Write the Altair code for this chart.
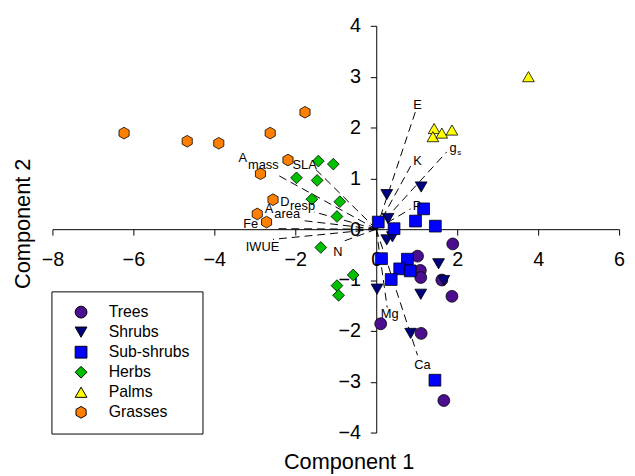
import altair as alt
import pandas as pd

# ---- groups / styling tables ----
groups = ["Trees", "Shrubs", "Sub-shrubs", "Herbs", "Palms", "Grasses"]
colors = ["#4a0e8f", "#000080", "#0000ff", "#00c000", "#ffff00", "#ff8000"]
hexagon = "M0,-1L0.866,-0.5L0.866,0.5L0,1L-0.866,0.5L-0.866,-0.5Z"
shapes = ["circle", "triangle-down", "square", "diamond", "triangle-up", hexagon]
sizes = [144, 140, 110, 160, 150, 150]

# ---- scores (Component 1, Component 2) ----
trees_x = [1.89, 1.02, 1.09, 1.10, 1.62, 1.87, 0.11, 1.11, 1.67]
trees_y = [-0.29, -0.53, -0.81, -0.95, -1.00, -1.32, -1.86, -2.05, -3.37]
shrubs_x = [0.26, 1.11, 0.29, 0.26, 0.40, 1.54, 1.67, 0.02, 1.10, 0.85]
shrubs_y = [0.68, 0.83, 0.21, -0.21, -0.15, -0.68, -1.01, -1.18, -1.28, -2.05]
subshrubs_x = [0.05, 0.44, 0.97, 1.17, 1.46, 0.13, 0.77, 0.58, 0.84, 0.37, 1.45]
subshrubs_y = [0.14, 0.01, 0.16, 0.40, 0.06, -0.58, -0.59, -0.78, -0.82, -0.99, -2.97]
herbs_x = [-1.43, -1.06, -1.97, -1.46, -1.59, -0.90, -0.97, -1.37, -0.57, -0.97, -0.93]
herbs_y = [1.34, 1.28, 1.01, 0.96, 0.59, 0.54, 0.25, -0.36, -0.90, -1.11, -1.30]
palms_x = [3.76, 1.43, 1.40, 1.62, 1.87]
palms_y = [3.00, 1.98, 1.82, 1.89, 1.95]
grasses_x = [-6.23, -4.67, -3.89, -2.62, -1.76, -2.18, -2.86, -2.55, -2.94, -2.71]
grasses_y = [1.89, 1.73, 1.69, 1.89, 2.30, 1.36, 1.09, 0.58, 0.30, 0.14]

# ---- loading vectors ----
load_names = ["E", "K", "gs", "P", "Mg", "Ca", "Amass", "SLA", "Dresp", "Aarea", "Fe", "IWUE", "N"]
load_x = [0.98, 0.85, 1.74, 0.85, 0.27, 1.02, -2.47, -1.50, -1.54, -1.82, -2.52, -2.55, -0.82]
load_y = [2.34, 1.24, 1.52, 0.40, -1.54, -2.48, 1.08, 1.18, 0.34, 0.17, 0.01, -0.20, -0.24]

# ---- loading labels ----
label_text = ["E", "K", "g", "P", "Mg", "Ca", "A", "mass", "SLA", "D", "resp", "A", "area", "Fe", "IWUE", "N"]
label_x = [1.02, 1.02, 1.90, 1.01, 0.33, 1.14, -3.30, -2.79, -1.77, -2.26, -1.82, -2.65, -2.20, -3.10, -2.81, -0.95]
label_y = [2.45, 1.35, 1.60, 0.45, -1.67, -2.67, 1.40, 1.27, 1.27, 0.54, 0.45, 0.39, 0.29, 0.11, -0.36, -0.44]
sub_text = ["s"]
sub_x = [2.05]
sub_y = [1.50]

xs = [trees_x, shrubs_x, subshrubs_x, herbs_x, palms_x, grasses_x]
ys = [trees_y, shrubs_y, subshrubs_y, herbs_y, palms_y, grasses_y]
rows = []
for g, gx, gy in zip(groups, xs, ys):
    for a, b in zip(gx, gy):
        rows.append({"group": g, "c1": a, "c2": b})
scores = pd.DataFrame(rows)

loads = pd.DataFrame({"name": load_names, "x": load_x, "y": load_y,
                      "x0": [0.0] * len(load_x), "y0": [0.0] * len(load_y)})
labels = pd.DataFrame({"t": label_text, "x": label_x, "y": label_y})
subs = pd.DataFrame({"t": sub_text, "x": sub_x, "y": sub_y})

FONT = "Liberation Sans, Arial, sans-serif"
W, H = 574, 412

xscale = alt.Scale(domain=[-8, 6], nice=False, zero=False)
yscale = alt.Scale(domain=[-4, 4], nice=False, zero=False)

xaxis = alt.Axis(values=[-8, -6, -4, -2, 0, 2, 4, 6], format="d", offset=-H / 2,
                 tickSize=6, labelPadding=15, labelFontSize=20, labelFlush=False,
                 labelOverlap=False, title="Component 1", titleFontSize=22,
                 titleX=300, titleY=225, titleBaseline="top", titleAlign="center")
yaxis = alt.Axis(values=[-4, -3, -2, -1, 0, 1, 2, 3, 4], format="d", offset=-W * 8 / 14,
                 tickSize=6, labelPadding=10, labelFontSize=20, labelFlush=False,
                 labelOverlap=False, title="Component 2", titleFontSize=22,
                 titleX=-W * 8 / 14 - 30, titleY=200, titleBaseline="middle",
                 titleAlign="center", titleAngle=270)

legend = alt.Legend(title=None, orient="none", legendX=-1, legendY=269,
                    strokeColor="black", padding=13, labelFontSize=16, labelFont=FONT,
                    labelColor="black", symbolSize=130, symbolStrokeColor="black",
                    symbolStrokeWidth=1, rowPadding=4.3, symbolOffset=9, labelOffset=20)

rules = alt.Chart(loads).mark_rule(color="black", strokeWidth=1, strokeDash=[8, 5]).encode(
    x=alt.X("x0:Q", scale=xscale, axis=xaxis),
    y=alt.Y("y0:Q", scale=yscale, axis=yaxis),
    x2="x:Q",
    y2="y:Q",
)

points = alt.Chart(scores).mark_point(filled=True, opacity=1, stroke="black", strokeWidth=0.8).encode(
    x=alt.X("c1:Q", scale=xscale, axis=xaxis),
    y=alt.Y("c2:Q", scale=yscale, axis=yaxis),
    color=alt.Color("group:N", scale=alt.Scale(domain=groups, range=colors), legend=legend),
    shape=alt.Shape("group:N", scale=alt.Scale(domain=groups, range=shapes), legend=legend),
    size=alt.Size("group:N", scale=alt.Scale(domain=groups, range=sizes), legend=None),
)

text = alt.Chart(labels).mark_text(font=FONT, fontSize=13, color="black",
                                   align="center", baseline="middle").encode(
    x=alt.X("x:Q", scale=xscale, axis=xaxis),
    y=alt.Y("y:Q", scale=yscale, axis=yaxis),
    text="t:N",
)

subtext = alt.Chart(subs).mark_text(font=FONT, fontSize=8, color="black",
                                    align="center", baseline="middle").encode(
    x=alt.X("x:Q", scale=xscale, axis=xaxis),
    y=alt.Y("y:Q", scale=yscale, axis=yaxis),
    text="t:N",
)

chart = alt.layer(rules, points, text, subtext).properties(
    width=W, height=H,
    autosize=alt.AutoSizeParams(type="none"),
    padding={"left": 45, "top": 15, "right": 8, "bottom": 45},
).configure_view(stroke=None).configure_axis(
    grid=False, domainColor="black", tickColor="black", labelColor="black",
    titleColor="black", labelFont=FONT, titleFont=FONT, titleFontWeight="normal",
    domainWidth=1, tickWidth=1,
)

chart.save("out.html", embed_options={"renderer": "svg", "actions": False})
